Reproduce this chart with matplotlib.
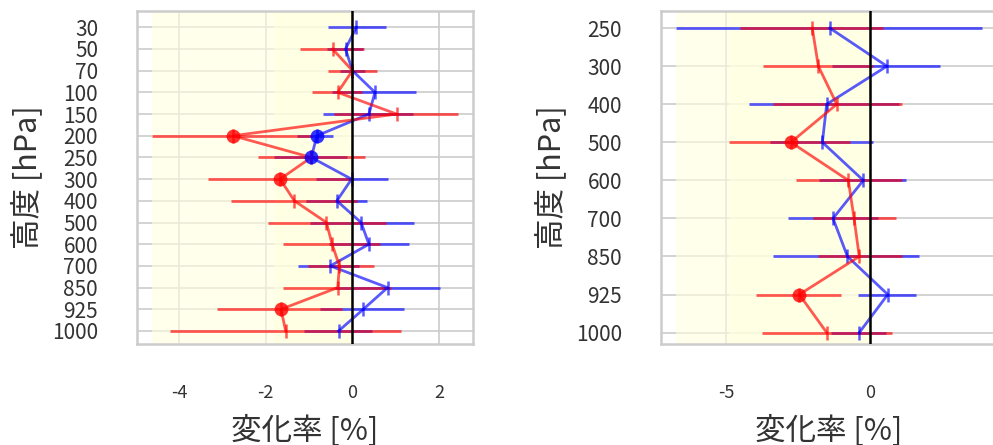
import numpy as np
import matplotlib
matplotlib.use("Agg")
import matplotlib.pyplot as plt

plt.rcParams['font.family'] = ['Noto Sans CJK JP', 'DejaVu Sans']
plt.rcParams['axes.unicode_minus'] = False

nan = np.nan

# left panel (30-1000 hPa)
left_levels = ["30", "50", "70", "100", "150", "200", "250", "300", "400",
               "500", "600", "700", "850", "925", "1000"]
left_red = [nan, -0.46, 0.00, -0.34, 1.02, -2.76, -0.95, -1.67, -1.34, -0.60, -0.47, -0.30, -0.34, -1.65, -1.54]
left_red_lo = [nan, -1.20, -0.57, -0.93, -0.43, -4.62, -2.18, -3.34, -2.81, -1.95, -1.60, -1.02, -1.60, -3.12, -4.22]
left_red_hi = [nan, 0.27, 0.56, 0.23, 2.43, -0.95, 0.30, -0.02, 0.11, 0.77, 0.64, 0.50, 0.90, -0.24, 1.13]
left_red_sig = [0, 0, 0, 0, 0, 1, 0, 1, 0, 0, 0, 0, 0, 1, 0]
left_blue = [0.09, -0.16, 0.00, 0.52, 0.38, -0.82, -0.95, -0.02, -0.36, 0.20, 0.38, -0.51, 0.81, 0.25, -0.32]
left_blue_lo = [-0.57, -0.58, -0.29, -0.47, -0.67, -1.27, -1.81, -0.84, -1.08, -0.99, -0.55, -1.26, -0.40, -0.74, -1.11]
left_blue_hi = [0.77, 0.24, 0.30, 1.47, 1.39, -0.45, -0.12, 0.83, 0.34, 1.41, 1.31, 0.15, 2.03, 1.19, 0.46]
left_blue_sig = [0, 0, 0, 0, 0, 1, 1, 0, 0, 0, 0, 0, 0, 0, 0]

# right panel (250-1000 hPa)
right_levels = ["250", "300", "400", "500", "600", "700", "850", "925", "1000"]
right_red = [-2.00, -1.79, -1.15, -2.74, -0.75, -0.55, -0.37, -2.45, -1.50]
right_red_lo = [-4.51, -3.72, -3.37, -4.88, -2.56, -1.97, -1.80, -3.96, -3.75]
right_red_hi = [0.44, 0.10, 1.11, -0.70, 1.12, 0.91, 1.12, -1.01, 0.76]
right_red_sig = [0, 0, 0, 1, 0, 0, 0, 1, 0]
right_blue = [-1.39, 0.59, -1.50, -1.65, -0.23, -1.28, -0.78, 0.62, -0.37]
right_blue_lo = [-6.72, -1.31, -4.18, -3.48, -1.77, -2.86, -3.37, -0.40, -1.36]
right_blue_hi = [3.88, 2.42, 1.00, 0.09, 1.26, 0.27, 1.70, 1.61, 0.56]
right_blue_sig = [0, 0, 0, 0, 0, 0, 0, 0, 0]

TEXT = "#333333"
GRID = "#cccccc"


def draw_panel(ax, levels, series, xticks):
    y = np.arange(len(levels))
    lows = []
    highs = []
    ax.set_yticks(y)
    ax.set_yticklabels(levels)
    ax.set_xticks(xticks)
    for val, lo, hi, sig, col in series:
        val = np.array(val, dtype=float)
        lo = np.array(lo, dtype=float)
        hi = np.array(hi, dtype=float)
        ax.errorbar(val, y, xerr=[val - lo, hi - val], fmt='-', marker='|',
                    color=col, alpha=0.65, lw=2, elinewidth=2, ms=10, mew=1.8,
                    zorder=3)
        sig = np.array(sig, dtype=bool)
        ax.plot(val[sig], y[sig], 'o', color=col, alpha=0.8, ms=10,
                mec='none', zorder=4)
        # shade from the lowest error bar end of this series up to 0
        ax.axvspan(np.nanmin(lo), 0, color='lightyellow', alpha=0.6,
                   lw=0, zorder=1)
        lows.append(np.nanmin(lo))
        highs.append(np.nanmax(hi))

    ax.axvline(0, color='black', lw=1.8, zorder=5)

    xmin, xmax = min(lows), max(highs)
    pad = 0.05 * (xmax - xmin)
    ax.set_xlim(xmin - pad, xmax + pad)
    n = len(levels) - 1
    ax.set_ylim(n + 0.05 * n - 0.1, -0.05 * n - 0.05)

    ax.grid(True, color=GRID, lw=1.2, zorder=0)
    ax.set_axisbelow(True)
    for sp in ax.spines.values():
        sp.set_color(GRID)
        sp.set_linewidth(1.8)
    ax.tick_params(axis='y', length=0, pad=28, labelsize=15, labelcolor=TEXT)
    ax.tick_params(axis='x', length=0, pad=29, labelsize=13, labelcolor=TEXT)
    ax.set_ylabel("高度 [hPa]", fontsize=22, color=TEXT)
    ax.set_xlabel("変化率 [%]", fontsize=22, color=TEXT)


fig = plt.figure(figsize=(9.93, 4.45), dpi=100)
W, H = 993, 445
ax1 = fig.add_axes([137 / W, (H - 344) / H, 336 / W, 333 / H])
ax2 = fig.add_axes([661 / W, (H - 344) / H, 336 / W, 333 / H])

# blue first so that red sits on top where the bars overlap
draw_panel(ax1, left_levels,
           [(left_blue, left_blue_lo, left_blue_hi, left_blue_sig, 'blue'),
            (left_red, left_red_lo, left_red_hi, left_red_sig, 'red')],
           [-4, -2, 0, 2])
draw_panel(ax2, right_levels,
           [(right_blue, right_blue_lo, right_blue_hi, right_blue_sig, 'blue'),
            (right_red, right_red_lo, right_red_hi, right_red_sig, 'red')],
           [-5, 0])

ax1.yaxis.set_label_coords(-0.28, 0.5)
ax2.yaxis.set_label_coords(-0.28, 0.5)
ax1.xaxis.set_label_coords(0.5, -0.21)
ax2.xaxis.set_label_coords(0.5, -0.21)

fig.savefig("out.png", dpi=100)
